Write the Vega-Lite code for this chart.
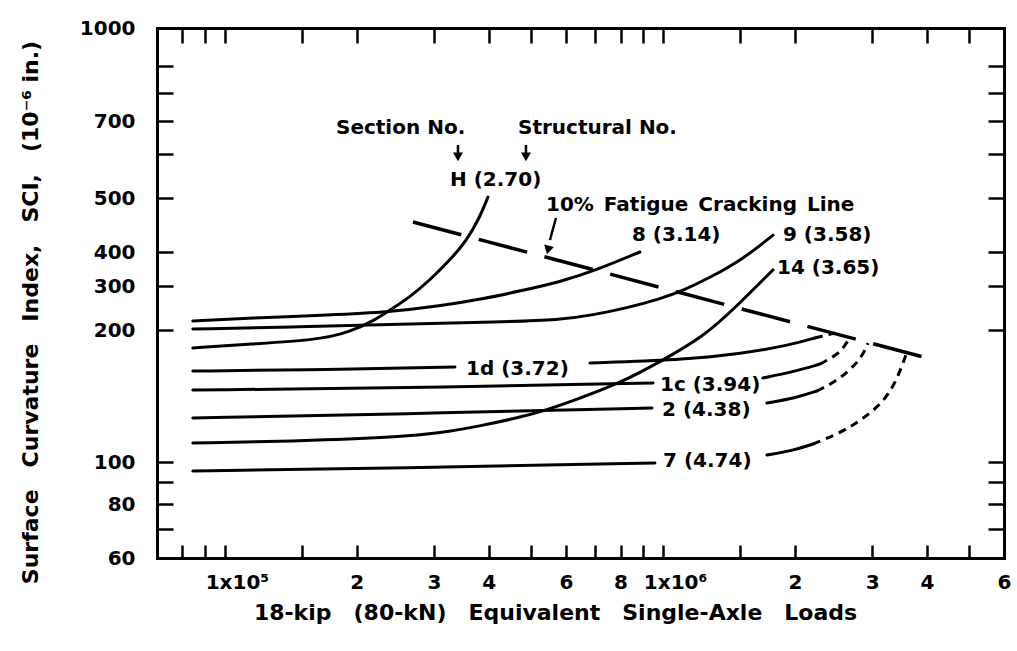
{
  "$schema": "https://vega.github.io/schema/vega-lite/v6.json",
  "width": 847,
  "height": 530,
  "autosize": {"type": "none"},
  "padding": {"left": 157, "top": 28, "right": 13, "bottom": 93},
  "background": "white",
  "config": {
    "view": {"stroke": null},
    "font": "DejaVu Sans",
    "axis": {
      "grid": false,
      "domainColor": "black",
      "domainWidth": 3,
      "domainCap": "square",
      "tickColor": "black",
      "tickWidth": 2.5,
      "labelColor": "black",
      "labelFont": "DejaVu Sans",
      "labelFontSize": 20,
      "labelFontWeight": "bold",
      "labelFlush": false,
      "labelOverlap": false,
      "labelBound": false,
      "titleColor": "black",
      "titleFont": "DejaVu Sans",
      "titleFontWeight": "bold",
      "titleFontSize": 22
    }
  },
  "datasets": {
    "curves": [
      {"p": "8", "s": "solid", "x": 84500, "y": 217.2},
      {"p": "8", "s": "solid", "x": 114100, "y": 223.4},
      {"p": "8", "s": "solid", "x": 173700, "y": 229.7},
      {"p": "8", "s": "solid", "x": 238100, "y": 236.1},
      {"p": "8", "s": "solid", "x": 309700, "y": 249.5},
      {"p": "8", "s": "solid", "x": 388200, "y": 266.1},
      {"p": "8", "s": "solid", "x": 471500, "y": 286.5},
      {"p": "8", "s": "solid", "x": 581800, "y": 310.3},
      {"p": "8", "s": "solid", "x": 706700, "y": 343.9},
      {"p": "8", "s": "solid", "x": 885700, "y": 400},

      {"p": "9", "s": "solid", "x": 84500, "y": 201.8},
      {"p": "9", "s": "solid", "x": 148300, "y": 205.6},
      {"p": "9", "s": "solid", "x": 250900, "y": 211.4},
      {"p": "9", "s": "solid", "x": 424500, "y": 215.3},
      {"p": "9", "s": "solid", "x": 581800, "y": 219.3},
      {"p": "9", "s": "solid", "x": 692000, "y": 229.7},
      {"p": "9", "s": "solid", "x": 827400, "y": 245.0},
      {"p": "9", "s": "solid", "x": 984000, "y": 266.1},
      {"p": "9", "s": "solid", "x": 1104600, "y": 286.5},
      {"p": "9", "s": "solid", "x": 1279600, "y": 321.9},
      {"p": "9", "s": "solid", "x": 1522500, "y": 377.0},
      {"p": "9", "s": "solid", "x": 1782000, "y": 428.8},

      {"p": "H", "s": "solid", "x": 84500, "y": 182.0},
      {"p": "H", "s": "solid", "x": 114100, "y": 185.8},
      {"p": "H", "s": "solid", "x": 162300, "y": 189.7},
      {"p": "H", "s": "solid", "x": 193000, "y": 197.9},
      {"p": "H", "s": "solid", "x": 220200, "y": 219.3},
      {"p": "H", "s": "solid", "x": 238100, "y": 240.4},
      {"p": "H", "s": "solid", "x": 264500, "y": 271.1},
      {"p": "H", "s": "solid", "x": 293800, "y": 315.7},
      {"p": "H", "s": "solid", "x": 326400, "y": 373.4},
      {"p": "H", "s": "solid", "x": 356900, "y": 420.3},
      {"p": "H", "s": "solid", "x": 382100, "y": 462.3},
      {"p": "H", "s": "solid", "x": 398500, "y": 502},

      {"p": "14", "s": "solid", "x": 84500, "y": 110.5},
      {"p": "14", "s": "solid", "x": 148300, "y": 111.6},
      {"p": "14", "s": "solid", "x": 250900, "y": 114.0},
      {"p": "14", "s": "solid", "x": 309700, "y": 116.4},
      {"p": "14", "s": "solid", "x": 382100, "y": 120.8},
      {"p": "14", "s": "solid", "x": 464100, "y": 126.0},
      {"p": "14", "s": "solid", "x": 523700, "y": 130.0},
      {"p": "14", "s": "solid", "x": 613000, "y": 137.0},
      {"p": "14", "s": "solid", "x": 809900, "y": 152.2},
      {"p": "14", "s": "solid", "x": 999600, "y": 170.8},
      {"p": "14", "s": "solid", "x": 1233000, "y": 192.8},
      {"p": "14", "s": "solid", "x": 1459000, "y": 245.0},
      {"p": "14", "s": "solid", "x": 1782000, "y": 343.9},

      {"p": "1dA", "s": "solid", "x": 84500, "y": 161.2},
      {"p": "1dA", "s": "solid", "x": 148300, "y": 162.1},
      {"p": "1dA", "s": "solid", "x": 335000, "y": 164.6},
      {"p": "1dB", "s": "solid", "x": 681100, "y": 168.2},
      {"p": "1dB", "s": "solid", "x": 1093000, "y": 170.8},
      {"p": "1dB", "s": "solid", "x": 1498000, "y": 176.3},
      {"p": "1dB", "s": "solid", "x": 1948000, "y": 184.8},
      {"p": "1dB", "s": "solid", "x": 2221000, "y": 191.8},
      {"p": "1dC", "s": "dash", "x": 2221000, "y": 191.8},
      {"p": "1dC", "s": "dash", "x": 2468000, "y": 196.9},

      {"p": "1cA", "s": "solid", "x": 84500, "y": 145.9},
      {"p": "1cA", "s": "solid", "x": 250900, "y": 147.5},
      {"p": "1cA", "s": "solid", "x": 948500, "y": 151.4},
      {"p": "1cB", "s": "solid", "x": 1690000, "y": 155.5},
      {"p": "1cB", "s": "solid", "x": 1979000, "y": 160.4},
      {"p": "1cB", "s": "solid", "x": 2281000, "y": 167.3},
      {"p": "1cC", "s": "dash", "x": 2281000, "y": 167.3},
      {"p": "1cC", "s": "dash", "x": 2494000, "y": 175.4},
      {"p": "1cC", "s": "dash", "x": 2602000, "y": 183.9},
      {"p": "1cC", "s": "dash", "x": 2670000, "y": 192.8},

      {"p": "2A", "s": "solid", "x": 84500, "y": 126.0},
      {"p": "2A", "s": "solid", "x": 250900, "y": 128.7},
      {"p": "2A", "s": "solid", "x": 943700, "y": 132.8},
      {"p": "2B", "s": "solid", "x": 1726000, "y": 136.3},
      {"p": "2B", "s": "solid", "x": 2000000, "y": 139.9},
      {"p": "2B", "s": "solid", "x": 2245000, "y": 145.2},
      {"p": "2C", "s": "dash", "x": 2245000, "y": 145.2},
      {"p": "2C", "s": "dash", "x": 2468000, "y": 152.2},
      {"p": "2C", "s": "dash", "x": 2670000, "y": 162.1},
      {"p": "2C", "s": "dash", "x": 2844000, "y": 173.5},
      {"p": "2C", "s": "dash", "x": 2935000, "y": 186.7},

      {"p": "7A", "s": "solid", "x": 84500, "y": 95.4},
      {"p": "7A", "s": "solid", "x": 250900, "y": 96.9},
      {"p": "7A", "s": "solid", "x": 958300, "y": 99.5},
      {"p": "7B", "s": "solid", "x": 1726000, "y": 103.7},
      {"p": "7B", "s": "solid", "x": 2000000, "y": 106.5},
      {"p": "7B", "s": "solid", "x": 2199000, "y": 109.9},
      {"p": "7C", "s": "dash", "x": 2199000, "y": 109.9},
      {"p": "7C", "s": "dash", "x": 2534000, "y": 116.4},
      {"p": "7C", "s": "dash", "x": 2815000, "y": 124.1},
      {"p": "7C", "s": "dash", "x": 3177000, "y": 136.3},
      {"p": "7C", "s": "dash", "x": 3419000, "y": 153.8},
      {"p": "7C", "s": "dash", "x": 3603000, "y": 178.2}
    ],
    "fatigue": [
      {"x": 268700, "y": 452.8},
      {"x": 4174000, "y": 170.8}
    ],
    "labels": [
      {"t": "Section No.", "x": 179300, "y": 677.5},
      {"t": "Structural No.", "x": 466600, "y": 677.5},
      {"t": "H (2.70)", "x": 326400, "y": 538.7},
      {"t": "10%\u2002Fatigue\u2002Cracking\u2002Line", "x": 540500, "y": 485.7},
      {"t": "8 (3.14)", "x": 849300, "y": 428.8},
      {"t": "9 (3.58)", "x": 1878000, "y": 428.8},
      {"t": "14 (3.65)", "x": 1820000, "y": 349.4},
      {"t": "1d (3.72)", "x": 355100, "y": 162.9},
      {"t": "1c (3.94)", "x": 984000, "y": 149.8},
      {"t": "2 (4.38)", "x": 994800, "y": 131.4},
      {"t": "7 (4.74)", "x": 1000000, "y": 100.5}
    ],
    "stems": [
      {"x": 340400, "y": 625.8, "x2": 340400, "y2": 600},
      {"x": 486600, "y": 625.8, "x2": 486600, "y2": 600},
      {"x": 569700, "y": 460.4, "x2": 552000, "y2": 420.3}
    ],
    "heads": [
      {"x": 340400, "y": 592.7},
      {"x": 486600, "y": 592.7}
    ],
    "slantHead": [
      {"x": 546300, "y": 403.3}
    ]
  },
  "resolve": {"axis": {"x": "independent", "y": "independent"}},
  "layer": [
    {
      "data": {"name": "curves"},
      "transform": [{"filter": "datum.s == 'solid'"}],
      "mark": {"type": "line", "color": "black", "strokeWidth": 3, "interpolate": "basis", "strokeCap": "round"},
      "encoding": {
        "x": {
          "field": "x", "type": "quantitative",
          "scale": {"type": "log", "domain": [70000, 6000000], "range": [0, 847], "nice": false},
          "axis": {
            "orient": "bottom",
            "values": [80000, 90000, 100000, 150000, 200000, 300000, 400000, 500000, 600000, 700000, 800000, 900000, 1000000, 1500000, 2000000, 3000000, 4000000, 5000000, 6000000],
            "labelExpr": "datum.value == 100000 ? '1x10⁵' : datum.value == 1000000 ? '1x10⁶' : indexof([200000, 300000, 400000, 600000, 800000, 2000000, 3000000, 4000000, 6000000], datum.value) >= 0 ? substring(toString(datum.value), 0, 1) : ''",
            "labelOffset": {"condition": {"test": "datum.value == 100000 || datum.value == 1000000", "value": 12}, "value": 0},
            "tickSize": -13,
            "labelPadding": 27,
            "title": "18-kip\u2002\u2002(80-kN)\u2002\u2002Equivalent\u2002\u2002Single-Axle\u2002\u2002Loads",
            "titleX": 398,
            "titleY": 54,
            "titleAlign": "center",
            "titleBaseline": "middle"
          }
        },
        "y": {
          "field": "y", "type": "quantitative",
          "scale": {"type": "log", "domain": [60, 70, 80, 90, 100, 200, 300, 400, 500, 600, 700, 800, 900, 1000], "range": [530, 501, 476, 454, 434, 302, 258, 224, 170, 126, 93, 65, 38, 0], "nice": false},
          "axis": {
            "orient": "left",
            "values": [60, 70, 80, 90, 100, 200, 300, 400, 500, 600, 700, 800, 900, 1000],
            "labelExpr": "indexof([60, 80, 100, 200, 300, 400, 500, 700, 1000], datum.value) >= 0 ? toString(datum.value) : ''",
            "tickSize": -16,
            "labelPadding": 38,
            "title": "Surface\u2002\u2002Curvature\u2002\u2002Index,\u2002\u2002SCI,\u2002\u2002(10⁻⁶ in.)",
            "titleX": -127,
            "titleY": 284,
            "titleAngle": -90,
            "titleAlign": "center",
            "titleBaseline": "middle"
          }
        },
        "detail": {"field": "p"}
      }
    },
    {
      "data": {"name": "curves"},
      "transform": [{"filter": "datum.s == 'dash'"}],
      "mark": {"type": "line", "color": "black", "strokeWidth": 3, "interpolate": "basis", "strokeDash": [8, 6]},
      "encoding": {
        "x": {
          "field": "x", "type": "quantitative",
          "scale": {"type": "log", "domain": [70000, 6000000], "range": [0, 847], "nice": false},
          "axis": {
            "orient": "top",
            "values": [80000, 90000, 100000, 150000, 200000, 300000, 400000, 500000, 600000, 700000, 800000, 900000, 1000000, 1500000, 2000000, 3000000, 4000000, 5000000, 6000000],
            "labels": false,
            "tickSize": -15,
            "title": null
          }
        },
        "y": {
          "field": "y", "type": "quantitative",
          "scale": {"type": "log", "domain": [60, 70, 80, 90, 100, 200, 300, 400, 500, 600, 700, 800, 900, 1000], "range": [530, 501, 476, 454, 434, 302, 258, 224, 170, 126, 93, 65, 38, 0], "nice": false},
          "axis": {
            "orient": "right",
            "values": [60, 70, 80, 90, 100, 200, 300, 400, 500, 600, 700, 800, 900, 1000],
            "labels": false,
            "tickSize": -16,
            "title": null
          }
        },
        "detail": {"field": "p"}
      }
    },
    {
      "data": {"name": "fatigue"},
      "mark": {"type": "line", "color": "black", "strokeWidth": 3.5, "strokeDash": [50, 18]},
      "encoding": {
        "x": {"field": "x", "type": "quantitative", "scale": {"type": "log", "domain": [70000, 6000000], "range": [0, 847], "nice": false}, "axis": null},
        "y": {"field": "y", "type": "quantitative", "scale": {"type": "log", "domain": [60, 70, 80, 90, 100, 200, 300, 400, 500, 600, 700, 800, 900, 1000], "range": [530, 501, 476, 454, 434, 302, 258, 224, 170, 126, 93, 65, 38, 0], "nice": false}, "axis": null}
      }
    },
    {
      "data": {"name": "stems"},
      "mark": {"type": "rule", "color": "black", "strokeWidth": 2.5},
      "encoding": {
        "x": {"field": "x", "type": "quantitative", "scale": {"type": "log", "domain": [70000, 6000000], "range": [0, 847], "nice": false}, "axis": null},
        "y": {"field": "y", "type": "quantitative", "scale": {"type": "log", "domain": [60, 70, 80, 90, 100, 200, 300, 400, 500, 600, 700, 800, 900, 1000], "range": [530, 501, 476, 454, 434, 302, 258, 224, 170, 126, 93, 65, 38, 0], "nice": false}, "axis": null},
        "x2": {"field": "x2"},
        "y2": {"field": "y2"}
      }
    },
    {
      "data": {"name": "heads"},
      "mark": {"type": "point", "shape": "triangle-down", "filled": true, "color": "black", "size": 100, "opacity": 1},
      "encoding": {
        "x": {"field": "x", "type": "quantitative", "scale": {"type": "log", "domain": [70000, 6000000], "range": [0, 847], "nice": false}, "axis": null},
        "y": {"field": "y", "type": "quantitative", "scale": {"type": "log", "domain": [60, 70, 80, 90, 100, 200, 300, 400, 500, 600, 700, 800, 900, 1000], "range": [530, 501, 476, 454, 434, 302, 258, 224, 170, 126, 93, 65, 38, 0], "nice": false}, "axis": null}
      }
    },
    {
      "data": {"name": "slantHead"},
      "mark": {"type": "point", "shape": "triangle-down", "filled": true, "color": "black", "size": 100, "opacity": 1, "angle": 14},
      "encoding": {
        "x": {"field": "x", "type": "quantitative", "scale": {"type": "log", "domain": [70000, 6000000], "range": [0, 847], "nice": false}, "axis": null},
        "y": {"field": "y", "type": "quantitative", "scale": {"type": "log", "domain": [60, 70, 80, 90, 100, 200, 300, 400, 500, 600, 700, 800, 900, 1000], "range": [530, 501, 476, 454, 434, 302, 258, 224, 170, 126, 93, 65, 38, 0], "nice": false}, "axis": null}
      }
    },
    {
      "data": {"name": "labels"},
      "mark": {"type": "text", "align": "left", "baseline": "middle", "font": "DejaVu Sans", "fontSize": 20, "fontWeight": "bold", "color": "black"},
      "encoding": {
        "x": {"field": "x", "type": "quantitative", "scale": {"type": "log", "domain": [70000, 6000000], "range": [0, 847], "nice": false}, "axis": null},
        "y": {"field": "y", "type": "quantitative", "scale": {"type": "log", "domain": [60, 70, 80, 90, 100, 200, 300, 400, 500, 600, 700, 800, 900, 1000], "range": [530, 501, 476, 454, 434, 302, 258, 224, 170, 126, 93, 65, 38, 0], "nice": false}, "axis": null},
        "text": {"field": "t"}
      }
    }
  ]
}
